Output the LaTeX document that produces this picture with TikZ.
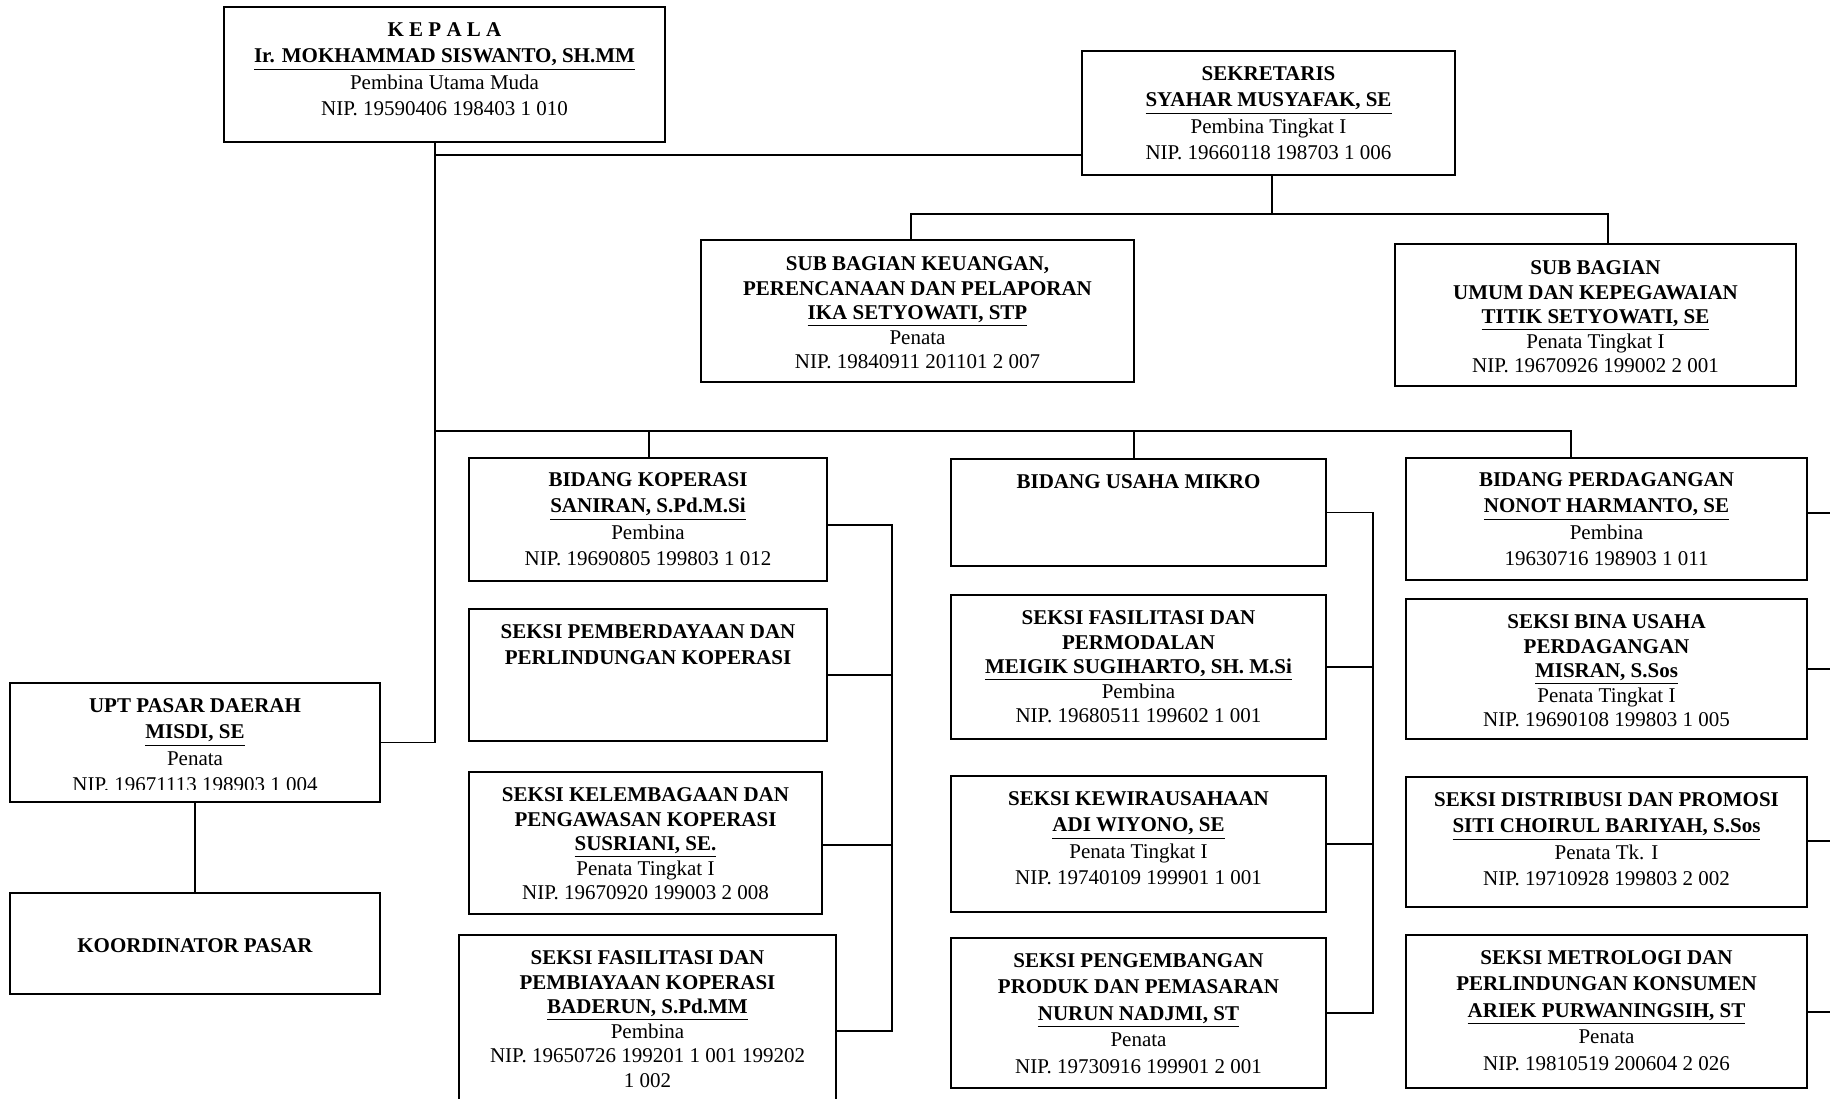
\documentclass[tikz,border=0pt]{standalone}
\usepackage{fontspec}
\setmainfont{Liberation Serif}
\usetikzlibrary{positioning, fit}

\begin{document}
\begin{tikzpicture}[
    x=0.5pt, y=-0.5pt,
    unit/.style={draw, line width=0.9pt, inner sep=0pt},
    info/.style={inner sep=0pt, align=center, font=\fontsize{10.5}{13.25}\selectfont},
    tight/.style={font=\fontsize{10.5}{12.3}\selectfont},
    link/.style={line width=0.7pt},
    node distance=8pt
]
    \useasboundingbox (0,0) rectangle (1830,1098);

    % Pimpinan dan sekretariat
    \node[unit, fit={(224,7) (665,142)}] (kepala) {};
    \node[info, below=of kepala.north] (kepala-t) {\textbf{K E P A L A}\\\textbf{\underline{Ir. MOKHAMMAD SISWANTO, SH.MM}}\\Pembina Utama Muda\\NIP. 19590406 198403 1 010};

    \node[unit, fit={(1082,51) (1455,175)}] (sekretaris) {};
    \node[info, below=of sekretaris.north] (sekretaris-t) {\textbf{SEKRETARIS}\\\textbf{\underline{SYAHAR MUSYAFAK, SE}}\\Pembina Tingkat I\\NIP. 19660118 198703 1 006};

    \node[unit, fit={(701,240) (1134,382)}] (keuangan) {};
    \node[info, tight, below=8.5pt of keuangan.north] (keuangan-t) {\textbf{SUB BAGIAN KEUANGAN,}\\\textbf{PERENCANAAN DAN PELAPORAN}\\\textbf{\underline{IKA SETYOWATI, STP}}\\Penata\\NIP. 19840911 201101 2 007};

    \node[unit, fit={(1395,244) (1796,386)}] (umum) {};
    \node[info, tight, below=8.5pt of umum.north] (umum-t) {\textbf{SUB BAGIAN}\\\textbf{UMUM DAN KEPEGAWAIAN}\\\textbf{\underline{TITIK SETYOWATI, SE}}\\Penata Tingkat I\\NIP. 19670926 199002 2 001};

    % UPT
    \node[unit, fit={(10,683) (380,802)}] (upt) {};
    \begin{scope}
        \clip (10,683) rectangle (380,789);
        \node[info, below=of upt.north] (upt-t) {\textbf{UPT PASAR DAERAH}\\\textbf{\underline{MISDI, SE}}\\Penata\\NIP. 19671113 198903 1 004};
    \end{scope}
    \node[unit, fit={(10,893) (380,994)}] (koord) {};
    \node[info, yshift=-1pt] (koord-t) at (koord.center) {\textbf{KOORDINATOR PASAR}};

    % Bidang Koperasi
    \node[unit, fit={(469,458) (827,581)}] (bidkop) {};
    \node[info, below=7.5pt of bidkop.north] (bidkop-t) {\textbf{BIDANG KOPERASI}\\\textbf{\underline{SANIRAN, S.Pd.M.Si}}\\Pembina\\NIP. 19690805 199803 1 012};

    \node[unit, fit={(469,609) (827,741)}] (pemberdayaan) {};
    \node[info, below=of pemberdayaan.north] (pemberdayaan-t) {\textbf{SEKSI PEMBERDAYAAN DAN}\\\textbf{PERLINDUNGAN KOPERASI}};

    \node[unit, fit={(469,772) (822,914)}] (kelembagaan) {};
    \node[info, tight, below=of kelembagaan.north] (kelembagaan-t) {\textbf{SEKSI KELEMBAGAAN DAN}\\\textbf{PENGAWASAN KOPERASI}\\\textbf{\underline{SUSRIANI, SE.}}\\Penata Tingkat I\\NIP. 19670920 199003 2 008};

    \node[unit, fit={(459,935) (836,1110)}] (faskop) {};
    \node[info, tight, below=of faskop.north] (faskop-t) {\textbf{SEKSI FASILITASI DAN}\\\textbf{PEMBIAYAAN KOPERASI}\\\textbf{\underline{BADERUN, S.Pd.MM}}\\Pembina\\NIP. 19650726 199201 1 001 199202\\1 002};

    % Bidang Usaha Mikro
    \node[unit, fit={(951,459) (1326,566)}] (mikro) {};
    \node[info, below=of mikro.north] (mikro-t) {\textbf{BIDANG USAHA MIKRO}};

    \node[unit, fit={(951,595) (1326,739)}] (permodalan) {};
    \node[info, tight, below=of permodalan.north] (permodalan-t) {\textbf{SEKSI FASILITASI DAN}\\\textbf{PERMODALAN}\\\textbf{\underline{MEIGIK SUGIHARTO, SH. M.Si}}\\Pembina\\NIP. 19680511 199602 1 001};

    \node[unit, fit={(951,776) (1326,912)}] (kewira) {};
    \node[info, below=of kewira.north] (kewira-t) {\textbf{SEKSI KEWIRAUSAHAAN}\\\textbf{\underline{ADI WIYONO, SE}}\\Penata Tingkat I\\NIP. 19740109 199901 1 001};

    \node[unit, fit={(951,938) (1326,1088)}] (pengemb) {};
    \node[info, below=of pengemb.north] (pengemb-t) {\textbf{SEKSI PENGEMBANGAN}\\\textbf{PRODUK DAN PEMASARAN}\\\textbf{\underline{NURUN NADJMI, ST}}\\Penata\\NIP. 19730916 199901 2 001};

    % Bidang Perdagangan
    \node[unit, fit={(1406,458) (1807,580)}] (perdag) {};
    \node[info, below=7.5pt of perdag.north] (perdag-t) {\textbf{BIDANG PERDAGANGAN}\\\textbf{\underline{NONOT HARMANTO, SE}}\\Pembina\\19630716 198903 1 011};

    \node[unit, fit={(1406,599) (1807,739)}] (bina) {};
    \node[info, tight, below=of bina.north] (bina-t) {\textbf{SEKSI BINA USAHA}\\\textbf{PERDAGANGAN}\\\textbf{\underline{MISRAN, S.Sos}}\\Penata Tingkat I\\NIP. 19690108 199803 1 005};

    \node[unit, fit={(1406,777) (1807,907)}] (distrib) {};
    \node[info, below=of distrib.north] (distrib-t) {\textbf{SEKSI DISTRIBUSI DAN PROMOSI}\\\textbf{\underline{SITI CHOIRUL BARIYAH, S.Sos}}\\Penata Tk. I\\NIP. 19710928 199803 2 002};

    \node[unit, fit={(1406,935) (1807,1088)}] (metro) {};
    \node[info, below=of metro.north] (metro-t) {\textbf{SEKSI METROLOGI DAN}\\\textbf{PERLINDUNGAN KONSUMEN}\\\textbf{\underline{ARIEK PURWANINGSIH, ST}}\\Penata\\NIP. 19810519 200604 2 026};

    % Garis komando
    \coordinate (spine) at (435,0);
    \coordinate (sek-tap) at (435,155);
    \coordinate (sub-drop) at (1272,214);
    \coordinate (sub-l) at (911,214);
    \coordinate (sub-r) at (1608,214);
    \coordinate (bid-bus) at (435,431);
    \coordinate (bid-kop) at (649,431);
    \coordinate (bid-mik) at (1134,431);
    \coordinate (bid-dag) at (1571,431);

    \draw[link] (kepala.south -| spine) -- (upt.east -| spine) -- (upt.east);
    \draw[link] (sek-tap) -- (sek-tap -| sekretaris.west);
    \draw[link] (sekretaris.south -| sub-drop) -- (sub-drop);
    \draw[link] (keuangan.north -| sub-l) -- (sub-l) -- (sub-r) -- (umum.north -| sub-r);
    \draw[link] (bid-bus) -- (bid-dag) -- (perdag.north -| bid-dag);
    \draw[link] (bid-kop) -- (bidkop.north -| bid-kop);
    \draw[link] (bid-mik) -- (mikro.north -| bid-mik);
    \draw[link] (upt.south) -- (koord.north);

    % Rel seksi koperasi
    \coordinate (kop-a) at (892,525);
    \coordinate (kop-b) at (892,675);
    \coordinate (kop-c) at (892,845);
    \coordinate (kop-d) at (892,1031);
    \draw[link] (kop-a -| bidkop.east) -- (kop-a) -- (kop-d) -- (kop-d -| faskop.east);
    \draw[link] (kop-b -| pemberdayaan.east) -- (kop-b);
    \draw[link] (kop-c -| kelembagaan.east) -- (kop-c);

    % Rel seksi usaha mikro
    \coordinate (mik-rail) at (1373,0);
    \draw[link] (mikro.east) -- (mikro.east -| mik-rail) -- (pengemb.east -| mik-rail) -- (pengemb.east);
    \draw[link] (permodalan.east) -- (permodalan.east -| mik-rail);
    \draw[link] (kewira.east) -- (kewira.east -| mik-rail);

    % Rel seksi perdagangan (terpotong di tepi)
    \coordinate (dag-a) at (1830,513);
    \coordinate (dag-b) at (1830,669);
    \coordinate (dag-c) at (1830,841);
    \coordinate (dag-d) at (1830,1012);
    \draw[link] (dag-a -| perdag.east) -- (dag-a);
    \draw[link] (dag-b -| bina.east) -- (dag-b);
    \draw[link] (dag-c -| distrib.east) -- (dag-c);
    \draw[link] (dag-d -| metro.east) -- (dag-d);

\end{tikzpicture}
\end{document}
